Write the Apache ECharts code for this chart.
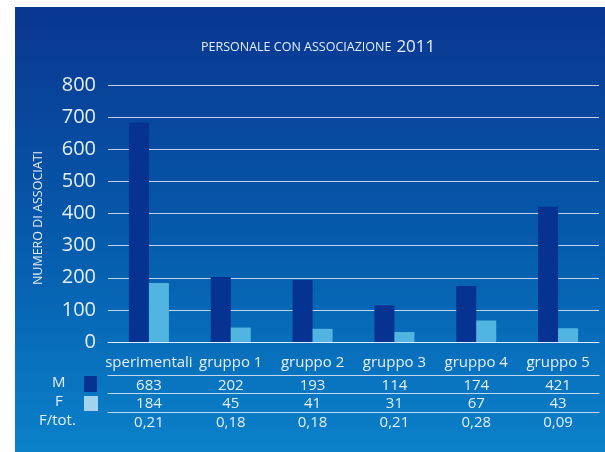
<!DOCTYPE html>
<html>
<head>
<meta charset="utf-8">
<script src="https://cdn.jsdelivr.net/npm/echarts@6/dist/echarts.min.js"></script>
<style>
  html, body { margin: 0; padding: 0; background: #ffffff; }
  #chart { width: 605px; height: 452px; }
</style>
</head>
<body>
<div id="chart"></div>
<script>
// Personale con associazione 2011: males and females per group
const categories = ['sperimentali', 'gruppo 1', 'gruppo 2', 'gruppo 3', 'gruppo 4', 'gruppo 5'];
const maleValues = [683, 202, 193, 114, 174, 421];
const femaleValues = [184, 45, 41, 31, 67, 43];
const femaleShare = ['0,21', '0,18', '0,18', '0,21', '0,28', '0,09'];
const yTicks = { min: 0, max: 800, step: 100 };

const textColor = '#e6eef8';
const font = '"Open Sans", "Noto Sans", sans-serif';
const maleColor = '#063291';
const femaleColor = '#52b4e0';
const lineColor = 'rgba(235,242,250,0.8)';

// one bottom category axis per table row; their axis lines are the row rules
function tableRow(offset, labels, showLine) {
  return {
    type: 'category',
    data: categories,
    position: 'bottom',
    offset: offset,
    axisLine: { show: showLine, lineStyle: { color: lineColor, width: 1.2 } },
    axisTick: { show: false },
    axisLabel: {
      margin: 3,
      color: textColor,
      fontFamily: font,
      fontSize: 15,
      formatter: (v, i) => String(labels[i])
    }
  };
}

const chart = echarts.init(document.getElementById('chart'), null, { renderer: 'canvas' });
chart.setOption({
  animation: false,
  graphic: [
    {
      type: 'rect',
      z: -100,
      silent: true,
      shape: { x: 15, y: 7, width: 590, height: 445 },
      style: {
        fill: new echarts.graphic.LinearGradient(0, 0, 0, 1, [
          { offset: 0, color: '#0a3690' },
          { offset: 0.5, color: '#0559ab' },
          { offset: 1, color: '#0a81c9' }
        ])
      }
    },
    { type: 'text', left: 52, top: 375, style: { text: 'M', fill: textColor, font: '15px ' + font } },
    { type: 'text', left: 55, top: 394, style: { text: 'F', fill: textColor, font: '15px ' + font } },
    { type: 'text', left: 39, top: 413, style: { text: 'F/tot.', fill: textColor, font: '15px ' + font } },
    { type: 'rect', shape: { x: 84, y: 376, width: 13, height: 16 }, style: { fill: maleColor } },
    { type: 'rect', shape: { x: 84, y: 396, width: 14, height: 15 }, style: { fill: '#a2d3ee' } }
  ],
  title: {
    text: '{a|PERSONALE CON ASSOCIAZIONE} {b|2011}',
    left: 196,
    top: 33,
    textStyle: {
      fontWeight: 'normal',
      rich: {
        a: { fontSize: 12.5, fontWeight: 'normal', color: textColor, fontFamily: font },
        b: { fontSize: 17, fontWeight: 'normal', color: textColor, fontFamily: font }
      }
    }
  },
  grid: { left: 108, right: 6, top: 85, bottom: 110 },
  xAxis: [
    {
      type: 'category',
      data: categories,
      position: 'bottom',
      axisLine: { show: true, lineStyle: { color: lineColor, width: 1.2 } },
      axisTick: { show: false },
      axisLabel: { margin: 13, color: textColor, fontFamily: font, fontSize: 15, interval: 0 }
    },
    tableRow(33, maleValues, true),
    tableRow(51, femaleValues, true),
    tableRow(70, femaleShare, true)
  ],
  yAxis: {
    type: 'value',
    min: yTicks.min,
    max: yTicks.max,
    interval: yTicks.step,
    name: 'NUMERO DI ASSOCIATI',
    nameLocation: 'middle',
    nameGap: 63,
    nameTextStyle: { color: textColor, fontFamily: font, fontSize: 12.5, padding: [0, 9, 0, 0] },
    axisLine: { show: false },
    axisTick: { show: false },
    axisLabel: { margin: 12, color: textColor, fontFamily: font, fontSize: 20 },
    splitLine: { lineStyle: { color: lineColor, width: 1.2 } }
  },
  series: [
    {
      name: 'M',
      type: 'bar',
      data: maleValues,
      barWidth: 20,
      barGap: '0%',
      itemStyle: { color: maleColor }
    },
    {
      name: 'F',
      type: 'bar',
      data: femaleValues,
      barWidth: 20,
      itemStyle: { color: femaleColor }
    }
  ]
});
</script>
</body>
</html>
